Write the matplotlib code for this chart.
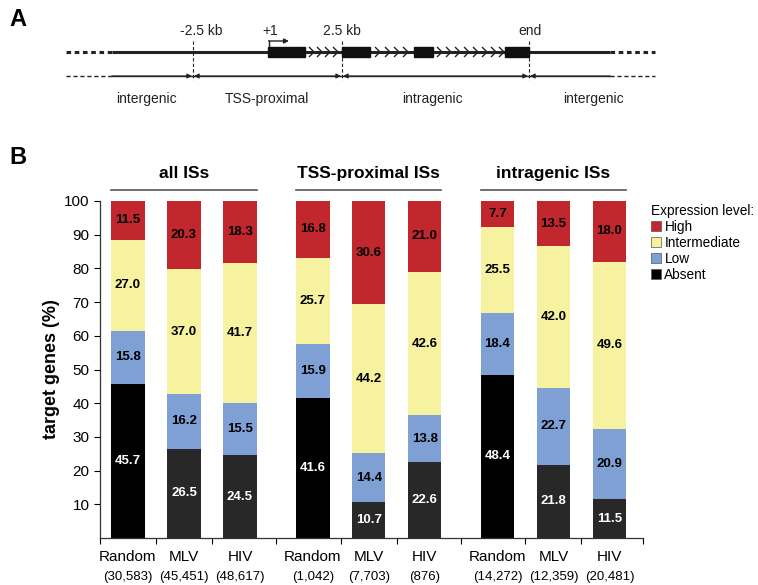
import matplotlib
matplotlib.use("Agg")
import matplotlib.pyplot as plt
from matplotlib.patches import Patch, Rectangle
import numpy as np

plt.rcParams['font.family'] = ['Liberation Sans', 'DejaVu Sans']

# ---- data (panel B) ----
groups = ['all ISs', 'TSS-proximal ISs', 'intragenic ISs']
samples = ['Random', 'MLV', 'HIV'] * 3
counts = ['(30,583)', '(45,451)', '(48,617)',
          '(1,042)', '(7,703)', '(876)',
          '(14,272)', '(12,359)', '(20,481)']
absent = [45.7, 26.5, 24.5, 41.6, 10.7, 22.6, 48.4, 21.8, 11.5]
low = [15.8, 16.2, 15.5, 15.9, 14.4, 13.8, 18.4, 22.7, 20.9]
intermediate = [27.0, 37.0, 41.7, 25.7, 44.2, 42.6, 25.5, 42.0, 49.6]
high = [11.5, 20.3, 18.3, 16.8, 30.6, 21.0, 7.7, 13.5, 18.0]
levels = ['Absent', 'Low', 'Intermediate', 'High']

red = '#C1272D'
yellow = '#F6F29F'
blue = '#7EA0D4'
black = '#000000'
dark = '#282828'

fig = plt.figure(figsize=(7.58, 5.85), dpi=100)
W, H = 758, 585

# ---- panel A schematic, drawn in pixel coordinates ----
axa = fig.add_axes([0, 0, 1, 1])
axa.set_xlim(0, W)
axa.set_ylim(H, 0)
axa.axis('off')

y_gene = 52
y_arr = 76
x_solid = (112, 610)
x_dot = (66, 655)
bounds = [193, 342, 529]
exons = [(268, 305), (342, 370), (414, 433), (505, 529)]
chevrons = [312, 320, 328, 336, 378, 388, 397, 406,
            440, 449, 458, 467, 476, 485, 494, 502]

axa.plot(x_solid, [y_gene, y_gene], color='#222', lw=2.2, solid_capstyle='butt')
axa.plot([x_dot[0], x_solid[0]], [y_gene, y_gene], color='#222', lw=2.2, ls=(0, (1.5, 1.2)))
axa.plot([x_solid[1], x_dot[1]], [y_gene, y_gene], color='#222', lw=2.2, ls=(0, (1.5, 1.2)))
axa.plot(x_solid, [y_arr, y_arr], color='#222', lw=1.0)
axa.plot([x_dot[0], x_solid[0]], [y_arr, y_arr], color='#222', lw=1.0, ls=(0, (3, 2)))
axa.plot([x_solid[1], x_dot[1]], [y_arr, y_arr], color='#222', lw=1.0, ls=(0, (3, 2)))

for x0, x1 in exons:
    axa.add_patch(Rectangle((x0, y_gene - 5), x1 - x0, 10, color='#111', zorder=3))
for cx in chevrons:
    axa.plot([cx - 2.5, cx + 2, cx - 2.5], [y_gene - 4.5, y_gene, y_gene + 4.5],
             color='#222', lw=1.0)
for bx in bounds:
    axa.plot([bx, bx], [41, 80], color='#222', lw=0.8, ls=(0, (3, 2)))

# TSS arrow
axa.plot([269, 269], [47, 41], color='#222', lw=1.0)
axa.annotate('', xy=(289, 41), xytext=(268.5, 41),
             arrowprops=dict(arrowstyle='-|>', color='#222', lw=1.0,
                             mutation_scale=7, shrinkA=0, shrinkB=0))

arr_kw = dict(color='#222', lw=0.8, mutation_scale=7, shrinkA=0, shrinkB=0)
axa.annotate('', xy=(bounds[0] - 1, y_arr), xytext=(x_solid[0], y_arr),
             arrowprops=dict(arrowstyle='-|>', **arr_kw))
axa.annotate('', xy=(bounds[1] - 1, y_arr), xytext=(bounds[0] + 1, y_arr),
             arrowprops=dict(arrowstyle='<|-|>', **arr_kw))
axa.annotate('', xy=(bounds[2] - 1, y_arr), xytext=(bounds[1] + 1, y_arr),
             arrowprops=dict(arrowstyle='<|-|>', **arr_kw))
axa.annotate('', xy=(bounds[2] + 1, y_arr), xytext=(x_solid[1], y_arr),
             arrowprops=dict(arrowstyle='-|>', **arr_kw))

for txt, x in [('-2.5 kb', 201), ('+1', 270), ('2.5 kb', 342), ('end', 530)]:
    axa.text(x, 31, txt, ha='center', va='center', fontsize=10, color='#222')
for txt, x in [('intergenic', 146), ('TSS-proximal', 267), ('intragenic', 432), ('intergenic', 593)]:
    axa.text(x, 99, txt, ha='center', va='center', fontsize=10, color='#222')

axa.text(18, 20, 'A', ha='center', va='center', fontsize=17, fontweight='bold')
axa.text(18, 157, 'B', ha='center', va='center', fontsize=17, fontweight='bold')

# ---- panel B stacked bars ----
ax = fig.add_axes([100 / W, 47 / H, 543 / W, 337 / H])
pos = np.array([0, 1, 2, 3.3, 4.3, 5.3, 6.6, 7.6, 8.6])
width = 0.6

absent_cols = [black if s == 'Random' else dark for s in samples]
series = [absent, low, intermediate, high]
cols = [absent_cols, blue, yellow, red]
bottom = np.zeros(len(pos))
for vals, c, lev in zip(series, cols, levels):
    vals = np.array(vals)
    ax.bar(pos, vals, width, bottom=bottom, color=c, edgecolor='none')
    tcol = 'white' if lev == 'Absent' else 'black'
    for x, b, v in zip(pos, bottom, vals):
        ax.text(x, b + v / 2, f'{v:.1f}', ha='center', va='center',
                fontsize=9.5, fontweight='bold', color=tcol)
    bottom += vals

ax.set_xlim(-0.5, 9.2)
ax.set_ylim(0, 100)
ax.set_yticks(np.arange(10, 101, 10))
ax.tick_params(axis='y', labelsize=11, length=4, width=0.8, direction='out')
ax.set_ylabel('target genes (%)', fontsize=13, fontweight='bold', labelpad=3)
ax.spines['top'].set_visible(False)
ax.spines['right'].set_visible(False)
for s in ['left', 'bottom']:
    ax.spines[s].set_linewidth(0.9)
    ax.spines[s].set_color('#333')

ax.set_xticks([-0.5, 0.5, 1.5, 2.65, 3.8, 4.8, 5.95, 7.1, 8.1, 9.2])
ax.set_xticklabels([])
ax.tick_params(axis='x', length=4, width=0.8, direction='out')

trans = ax.get_xaxis_transform()
for x, s, c in zip(pos, samples, counts):
    ax.text(x, -0.057, s, transform=trans, ha='center', va='center', fontsize=11)
    ax.text(x, -0.117, c, transform=trans, ha='center', va='center', fontsize=9.5)

for g, name in enumerate(groups):
    x0 = pos[3 * g] - width / 2
    x1 = pos[3 * g + 2] + width / 2
    ax.plot([x0, x1], [1.033, 1.033], transform=trans, color='#555', lw=1.2, clip_on=False)
    ax.text((x0 + x1) / 2, 1.083, name, transform=trans, ha='center', va='center',
            fontsize=12.5, fontweight='bold')

handles = [Patch(facecolor=red, edgecolor='#555', lw=0.5),
           Patch(facecolor=yellow, edgecolor='#555', lw=0.5),
           Patch(facecolor=blue, edgecolor='#555', lw=0.5),
           Patch(facecolor=black, edgecolor='#555', lw=0.5)]
leg = fig.legend(handles, ['High', 'Intermediate', 'Low', 'Absent'],
                 title='Expression level:', loc='upper left',
                 bbox_to_anchor=(644 / W, 1 - 197 / H), frameon=False,
                 fontsize=9.8, title_fontsize=9.8, handlelength=0.75, handleheight=0.75,
                 handletextpad=0.25, labelspacing=0.15, borderpad=0, alignment='left')

fig.savefig('out.png', dpi=100)
